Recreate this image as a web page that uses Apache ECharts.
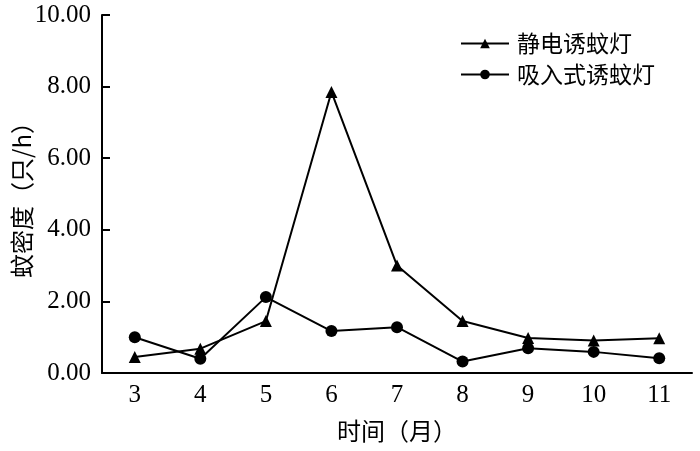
<!DOCTYPE html>
<html><head><meta charset="utf-8">
<script src="https://cdn.jsdelivr.net/npm/echarts@6/dist/echarts.min.js"></script>
<style>html,body{margin:0;padding:0;background:#fff}#c{width:700px;height:451px}</style>
</head><body><div id="c"></div>
<script>
const months = ['3','4','5','6','7','8','9','10','11'];
const staticLamp = [0.45, 0.68, 1.45, 7.85, 3.0, 1.45, 0.98, 0.91, 0.97];
const suctionLamp = [1.0, 0.40, 2.12, 1.17, 1.28, 0.32, 0.69, 0.59, 0.41];
const seriesNames = ['静电诱蚊灯', '吸入式诱蚊灯'];
const yTitle = '蚊密度（只/h）';
const xTitle = '时间（月）';

const numFont = '"Liberation Serif", "DejaVu Serif", serif';
const cjkFont = '"Noto Sans CJK SC", "Liberation Serif", sans-serif';
const chart = echarts.init(document.getElementById('c'), null, {renderer:'canvas'});
chart.setOption({
  animation: false,
  backgroundColor: '#fff',
  grid: {left: 102, right: 8, top: 15, bottom: 78, containLabel: false, outerBoundsMode: 'none'},
  legend: {
    top: 27, left: 455, orient: 'vertical', itemGap: 8,
    itemWidth: 48, itemHeight: 12,
    textStyle: {fontFamily: cjkFont, fontSize: 23, color: '#000', padding:[0,0,0,3]},
    data: seriesNames
  },
  xAxis: {
    type: 'category', data: months, boundaryGap: true,
    name: xTitle, nameLocation: 'middle', nameGap: 46, nameMoveOverlap: false,
    nameTextStyle: {fontFamily: cjkFont, fontSize: 24, color: '#000'},
    axisLine: {lineStyle: {color: '#000', width: 2}},
    axisTick: {inside: true, length: 8, lineStyle: {color:'#000', width: 2}},
    axisLabel: {fontFamily: numFont, fontSize: 25, color: '#000', margin: 10}
  },
  yAxis: {
    type: 'value', min: 0, max: 10, interval: 2,
    name: yTitle, nameLocation: 'middle', nameGap: 68, nameMoveOverlap: false,
    nameTextStyle: {fontFamily: cjkFont, fontSize: 24, color: '#000'},
    axisLine: {show: true, lineStyle: {color: '#000', width: 2}},
    axisTick: {show: true, inside: true, length: 8, lineStyle: {color:'#000', width: 2}},
    splitLine: {show: false},
    axisLabel: {fontFamily: numFont, fontSize: 25, color: '#000', margin: 11,
      formatter: v => v.toFixed(2)}
  },
  series: [
    {name: seriesNames[0], type: 'line', data: staticLamp, symbol: 'triangle', symbolSize: 12,
     lineStyle: {color: '#000', width: 2}, itemStyle: {color: '#000'}},
    {name: seriesNames[1], type: 'line', data: suctionLamp, symbol: 'circle', symbolSize: 12,
     lineStyle: {color: '#000', width: 2}, itemStyle: {color: '#000'}}
  ]
});
</script></body></html>
